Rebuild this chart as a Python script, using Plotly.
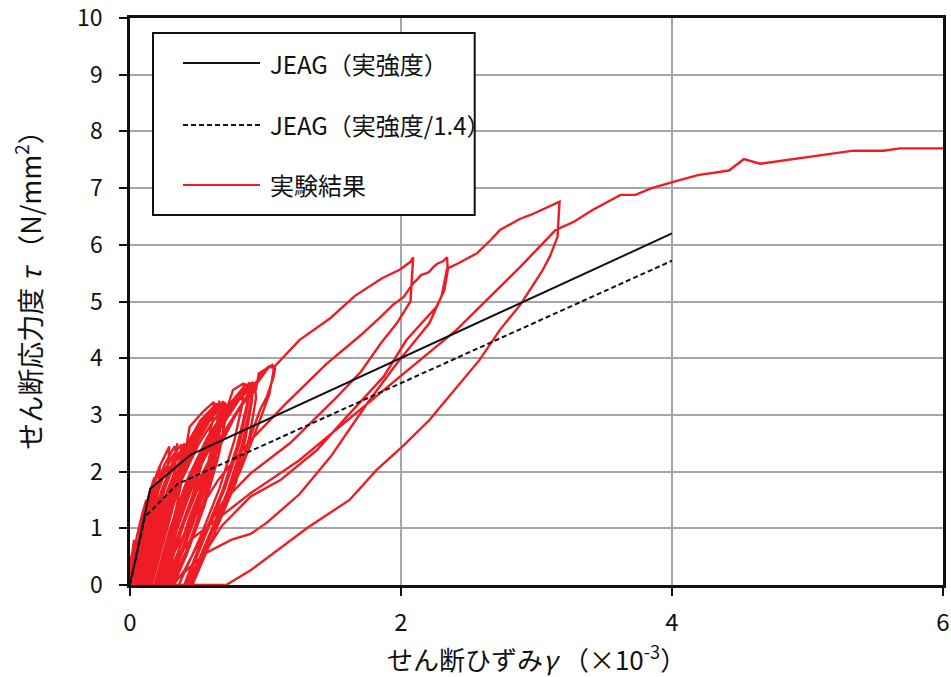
import plotly.graph_objects as go

# ---------------- data ----------------
legend_names = ["JEAG（実強度）", "JEAG（実強度/1.4）", "実験結果"]
x_title = "せん断ひずみ<i>γ</i> （×10<sup>-3</sup>）"
y_title = "せん断応力度 <i>τ</i> （N/mm<sup>2</sup>）"

jeag_x = [0.0, 0.15, 0.45, 4.0]
jeag_y = [0.0, 1.70, 2.30, 6.20]

jeag14_x = [0.0, 0.11, 0.35, 4.0]
jeag14_y = [0.0, 1.20, 1.78, 5.72]

# small cycles near origin (peaks up to ~2.5)
stageA_x = [0.00, 0.01, 0.03, 0.02, 0.00,
            0.00, 0.02, 0.05, 0.09, 0.12, 0.11, 0.08, 0.05, 0.04,
            0.02, 0.05, 0.09, 0.14, 0.18, 0.17, 0.13, 0.09, 0.07,
            0.03, 0.07, 0.12, 0.18, 0.22, 0.21, 0.17, 0.12, 0.09,
            0.04, 0.09, 0.15, 0.22, 0.29, 0.28, 0.23, 0.17, 0.12,
            0.06, 0.11, 0.18, 0.26, 0.34, 0.33, 0.28, 0.21, 0.15,
            0.05, 0.10, 0.17, 0.25, 0.33, 0.34, 0.35, 0.33, 0.27, 0.20, 0.14,
            0.09, 0.16, 0.24, 0.33, 0.41, 0.40, 0.34, 0.26, 0.18,
            0.07, 0.13, 0.20, 0.29, 0.38, 0.37, 0.40, 0.38, 0.31, 0.23, 0.16,
            0.08, 0.15, 0.23, 0.32, 0.42]
stageA_y = [0.00, 0.45, 0.80, 0.60, 0.40,
            0.00, 0.40, 0.85, 1.25, 1.50, 1.20, 0.75, 0.30, 0.00,
            0.00, 0.60, 1.10, 1.60, 1.90, 1.50, 0.95, 0.40, 0.00,
            0.00, 0.70, 1.30, 1.85, 2.10, 1.70, 1.10, 0.50, 0.00,
            0.00, 0.80, 1.50, 2.10, 2.44, 2.00, 1.40, 0.70, 0.00,
            0.00, 0.75, 1.50, 2.05, 2.35, 1.95, 1.35, 0.65, 0.00,
            0.00, 0.80, 1.55, 2.10, 2.45, 2.30, 2.50, 2.05, 1.40, 0.70, 0.00,
            0.00, 0.85, 1.60, 2.15, 2.45, 2.05, 1.35, 0.60, 0.00,
            0.00, 0.85, 1.60, 2.20, 2.48, 2.20, 2.50, 2.00, 1.30, 0.60, 0.00,
            0.00, 0.90, 1.65, 2.20, 2.50]

# cycles with peaks ~3.2
stageB_x = [0.44, 0.54, 0.62, 0.61, 0.55, 0.45, 0.33, 0.22,
            0.10, 0.18, 0.28, 0.40, 0.52, 0.64, 0.65, 0.66, 0.64, 0.57, 0.47, 0.35, 0.25,
            0.11, 0.19, 0.30, 0.42, 0.55, 0.66, 0.65, 0.60, 0.50, 0.38, 0.26,
            0.12, 0.20, 0.31, 0.44, 0.57, 0.68, 0.67, 0.62, 0.52, 0.40, 0.28,
            0.13, 0.22, 0.33, 0.46, 0.58, 0.69, 0.68, 0.63, 0.54, 0.42, 0.29,
            0.14, 0.23, 0.34, 0.47, 0.60, 0.70, 0.71, 0.66, 0.56, 0.43, 0.31,
            0.15, 0.25, 0.36, 0.49, 0.61, 0.71, 0.70, 0.65, 0.55, 0.42, 0.32,
            0.16, 0.26, 0.38, 0.51, 0.63, 0.72]
stageB_y = [2.79, 3.06, 3.23, 2.90, 2.30, 1.50, 0.70, 0.00,
            0.00, 0.90, 1.70, 2.40, 2.90, 3.20, 3.05, 3.25, 2.80, 2.10, 1.30, 0.55, 0.00,
            0.00, 0.85, 1.70, 2.40, 2.95, 3.18, 2.85, 2.20, 1.40, 0.60, 0.00,
            0.00, 0.85, 1.70, 2.45, 2.95, 3.20, 2.90, 2.30, 1.45, 0.65, 0.00,
            0.00, 0.90, 1.75, 2.45, 2.95, 3.24, 2.95, 2.25, 1.45, 0.62, 0.00,
            0.00, 0.90, 1.75, 2.45, 2.95, 3.22, 3.00, 2.35, 1.50, 0.65, 0.00,
            0.00, 0.95, 1.80, 2.50, 2.98, 3.20, 2.90, 2.25, 1.40, 0.55, 0.00,
            0.00, 0.95, 1.85, 2.50, 2.95, 3.15]

# cycles with peaks ~3.55
stageC_x = [0.76, 0.84, 0.83, 0.77, 0.66, 0.52, 0.36,
            0.18, 0.29, 0.42, 0.57, 0.72, 0.86, 0.87, 0.88, 0.86, 0.79, 0.68, 0.54, 0.40,
            0.19, 0.31, 0.44, 0.59, 0.74, 0.88, 0.87, 0.81, 0.70, 0.56, 0.41,
            0.20, 0.32, 0.46, 0.61, 0.76, 0.90, 0.89, 0.83, 0.72, 0.58, 0.43,
            0.21, 0.33, 0.48, 0.63, 0.78, 0.91, 0.90, 0.85, 0.75, 0.60, 0.45,
            0.22, 0.35, 0.50, 0.65, 0.80, 0.92, 0.93, 0.88, 0.78, 0.63, 0.46,
            0.24, 0.37, 0.52, 0.68, 0.83, 0.93]
stageC_y = [3.44, 3.56, 3.20, 2.55, 1.70, 0.85, 0.00,
            0.00, 0.95, 1.85, 2.60, 3.15, 3.55, 3.40, 3.58, 3.15, 2.45, 1.65, 0.85, 0.00,
            0.00, 1.00, 1.90, 2.62, 3.18, 3.52, 3.20, 2.50, 1.70, 0.90, 0.00,
            0.00, 1.00, 1.95, 2.65, 3.20, 3.57, 3.20, 2.50, 1.65, 0.85, 0.00,
            0.00, 0.98, 1.95, 2.68, 3.22, 3.58, 3.25, 2.55, 1.75, 0.90, 0.00,
            0.00, 1.00, 2.00, 2.70, 3.25, 3.55, 3.30, 2.60, 1.80, 0.95, 0.00,
            0.00, 0.95, 1.90, 2.65, 3.20, 3.45]

# cycles with peaks ~3.85
stageD_x = [0.95, 1.05, 1.06, 1.03, 0.95, 0.82, 0.66, 0.50, 0.42,
            0.25, 0.40, 0.56, 0.72, 0.88, 0.98, 1.02, 1.07, 1.06, 1.01, 0.96, 0.85, 0.70, 0.54, 0.45,
            0.28, 0.44, 0.60, 0.78, 0.92, 1.03, 1.07]
stageD_y = [3.73, 3.88, 3.79, 3.38, 2.85, 2.05, 1.20, 0.40, 0.00,
            0.00, 1.10, 2.05, 2.80, 3.40, 3.75, 3.85, 3.82, 3.67, 3.32, 3.09, 2.35, 1.45, 0.60, 0.00,
            0.00, 1.20, 2.15, 3.00, 3.50, 3.86, 3.86]

# envelope to first large peak, unload
loop1_x = [1.25, 1.48, 1.66, 1.86, 1.99, 2.07, 2.09, 2.07, 1.97, 1.85, 1.70, 1.50,
           1.38, 1.18, 0.89, 0.68, 0.52, 0.40, 0.32]
loop1_y = [4.32, 4.71, 5.10, 5.41, 5.56, 5.70, 5.78, 5.00, 4.62, 4.26, 3.75, 3.25,
           2.97, 2.50, 1.97, 1.45, 0.80, 0.25, 0.00]

# reload to second large peak, unload
loop2_x = [0.20, 0.40, 0.65, 0.89, 1.15, 1.45, 1.70, 1.85, 1.94, 2.02, 2.09, 2.12,
           2.15, 2.19, 2.21, 2.24, 2.27, 2.31, 2.34, 2.345, 2.32, 2.26, 2.04, 1.87,
           1.60, 1.38, 1.11, 0.89, 0.68, 0.52, 0.42]
loop2_y = [0.00, 0.90, 1.85, 2.55, 3.20, 3.90, 4.40, 4.73, 4.94, 5.08, 5.32, 5.39,
           5.47, 5.50, 5.53, 5.61, 5.67, 5.71, 5.78, 5.55, 5.20, 4.90, 4.32, 3.67,
           2.97, 2.38, 1.85, 1.56, 1.05, 0.45, 0.00]

# reload to third large peak, unload
loop3_x = [0.30, 0.55, 0.75, 0.89, 1.01, 1.25, 1.48, 1.75, 1.97, 2.21, 2.30, 2.34,
           2.42, 2.56, 2.66, 2.73, 2.88, 2.96, 3.17, 3.155, 3.10, 3.04, 2.88, 2.73,
           2.58, 2.53, 2.24, 2.21, 2.01, 1.82, 1.62, 1.31, 0.89, 0.71]
loop3_y = [0.00, 0.55, 0.80, 0.90, 1.10, 1.60, 2.26, 3.20, 3.91, 4.62, 5.10, 5.58,
           5.67, 5.85, 6.08, 6.26, 6.46, 6.53, 6.76, 6.14, 5.80, 5.53, 4.94, 4.50,
           3.97, 3.83, 3.00, 2.91, 2.44, 2.03, 1.50, 1.01, 0.26, 0.00]

# final monotonic loading
final_x = [0.20, 0.45, 0.89, 1.25, 1.60, 1.99, 2.41, 2.88, 3.14, 3.28, 3.41, 3.62,
           3.73, 3.85, 4.01, 4.19, 4.42, 4.53, 4.65, 5.34, 5.56, 5.68, 6.00]
final_y = [0.00, 0.80, 1.62, 2.20, 2.90, 3.67, 4.50, 5.61, 6.26, 6.41, 6.61, 6.88,
           6.88, 7.00, 7.11, 7.23, 7.31, 7.51, 7.43, 7.66, 7.66, 7.70, 7.70]

exp_x = stageA_x + stageB_x + stageC_x + stageD_x + loop1_x + loop2_x + loop3_x + final_x
exp_y = stageA_y + stageB_y + stageC_y + stageD_y + loop1_y + loop2_y + loop3_y + final_y

x_ticks = [0, 2, 4, 6]
y_ticks = list(range(0, 11))

# ---------------- figure ----------------
RED = "#ee1c24"
INK = "#111111"
FONT = "Noto Sans CJK JP"

series_styles = [dict(color=INK, width=2), dict(color=INK, width=2, dash="5px,3px"),
                 dict(color=RED, width=2.4)]

fig = go.Figure()
fig.add_trace(go.Scatter(x=exp_x, y=exp_y, mode="lines", name=legend_names[2],
                         line=series_styles[2], showlegend=False))
fig.add_trace(go.Scatter(x=jeag_x, y=jeag_y, mode="lines", name=legend_names[0],
                         line=series_styles[0], showlegend=False))
fig.add_trace(go.Scatter(x=jeag14_x, y=jeag14_y, mode="lines", name=legend_names[1],
                         line=series_styles[1], showlegend=False))

# legend box drawn in paper coordinates
shapes = [dict(type="rect", xref="paper", yref="paper", x0=0.0283, x1=0.424,
               y0=0.6526, y1=0.9735, line=dict(color=INK, width=2), fillcolor="white",
               layer="above")]
annotations = []
row_y = [0.9206, 0.8113, 0.7055]
for name, st, ry in zip(legend_names, series_styles, row_y):
    shapes.append(dict(type="line", xref="paper", yref="paper", x0=0.0652, x1=0.1599,
                       y0=ry, y1=ry, line=dict(color=st["color"], width=2,
                                               dash=st.get("dash", "solid")),
                       layer="above"))
    annotations.append(dict(xref="paper", yref="paper", x=0.1697, y=ry, text=name,
                            showarrow=False, xanchor="left", yanchor="middle",
                            font=dict(family=FONT, size=24, color=INK)))

annotations.append(dict(xref="paper", yref="paper", x=0.5, y=-0.128, text=x_title,
                        showarrow=False, xanchor="center", yanchor="middle",
                        font=dict(family=FONT, size=26, color=INK)))
annotations.append(dict(xref="paper", yref="paper", x=-0.1255, y=0.533, text=y_title,
                        showarrow=False, xanchor="center", yanchor="middle",
                        textangle=-90, font=dict(family=FONT, size=27, color=INK)))

fig.update_layout(
    width=951, height=677,
    margin=dict(l=130, r=8, t=18, b=92),
    paper_bgcolor="white", plot_bgcolor="white",
    font=dict(family=FONT, size=24, color=INK),
    showlegend=False,
    hovermode=False,
    shapes=shapes,
    annotations=annotations,
)

fig.update_xaxes(range=[0, 6], tickvals=x_ticks, ticktext=[str(v) for v in x_ticks],
                 showgrid=True, gridcolor="#a6a6a6", gridwidth=1.5,
                 showline=True, linecolor=INK, linewidth=2.5, mirror=True,
                 ticks="outside", ticklen=8, tickwidth=2, tickcolor=INK,
                 zeroline=False, automargin=False, ticklabeloverflow="allow",
                 ticklabelstandoff=6,
                 tickfont=dict(family=FONT, size=24, color=INK))
fig.update_yaxes(range=[0, 10], tickvals=y_ticks,
                 showgrid=True, gridcolor="#a6a6a6", gridwidth=1.5,
                 showline=True, linecolor=INK, linewidth=2.5, mirror=True,
                 ticks="outside", ticklen=8, tickwidth=2, tickcolor=INK,
                 zeroline=False, automargin=False, ticklabeloverflow="allow",
                 ticklabelstandoff=12,
                 tickfont=dict(family=FONT, size=23, color=INK))

# remove the page's default body margin so the figure sits at the window's top-left
fig.write_html("out.html", config={"displayModeBar": False},
               post_script="document.body.style.margin='0';document.body.style.overflow='hidden';")
